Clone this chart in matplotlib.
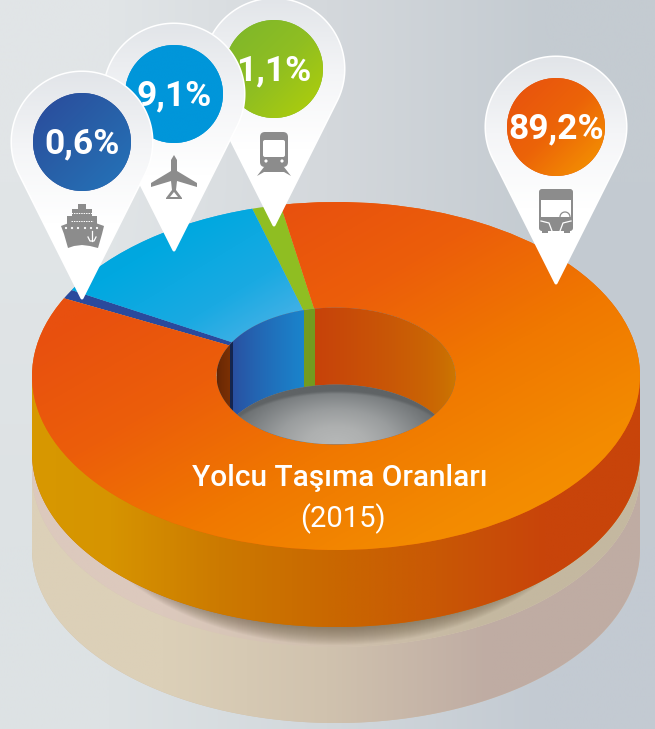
import numpy as np
import matplotlib
matplotlib.use("Agg")
import matplotlib.pyplot as plt
from matplotlib.colors import LinearSegmentedColormap, to_rgb
from matplotlib.patches import Circle, Polygon, Rectangle, FancyBboxPatch

plt.rcParams["font.family"] = ["Roboto", "DejaVu Sans"]

# printed on the pins
modes = ["Denizyolu", "Havayolu", "Demiryolu", "Karayolu"]
label_values = [0.6, 9.1, 1.1, 89.2]
chart_title = "Yolcu Taşıma Oranları"
chart_year = "(2015)"

# slice sizes as drawn in the picture (they are not to scale with the labels)
slice_names = ["Demiryolu", "Havayolu", "Denizyolu", "Karayolu"]
slice_shares = [1.53, 12.33, 0.86, 85.28]

START = 100.5
W, H = 655, 729
CX, CY, RX, RY = 336, 376, 304, 174
INNER = 0.393
DEPTH = 77 / RY


def color_ramp(stops):
    return LinearSegmentedColormap.from_list("r", stops)


def gradient(ax, clip, box, stops, ux=1.0, uy=0.0, z=1, alpha=None):
    fx, fy = np.meshgrid(np.linspace(0, 1, 300), np.linspace(0, 1, 300))
    t = fx * ux + fy * uy
    t = (t - t.min()) / (t.max() - t.min())
    im = ax.imshow(color_ramp(stops)(t), extent=box, aspect="auto", zorder=z,
                   interpolation="bilinear", alpha=alpha)
    if clip is not None:
        im.set_clip_path(clip)
    return im


def ellipse_xy(r=1.0, dy=0.0, a0=0.0, a1=360.0, n=300):
    a = np.radians(np.linspace(a0, a1, n))
    return r * np.cos(a), r * np.sin(a) - dy


def poly(ax, x, y, **kw):
    p = Polygon(np.column_stack([x, y]), closed=True, **kw)
    ax.add_patch(p)
    return p


fig = plt.figure(figsize=(W / 100, H / 100), dpi=100)
ax = fig.add_axes([0, 0, 1, 1])
box = [-CX / RX, (W - CX) / RX, (CY - H) / RY, CY / RY]

# background
bg = np.array([[to_rgb("#e1e5e7"), to_rgb("#d4d8dc"), to_rgb("#c4cbd1")],
               [to_rgb("#dde2e4"), to_rgb("#d2d8dc"), to_rgb("#c3cad2")]])
ax.imshow(bg, extent=box, aspect="auto", interpolation="bilinear", zorder=0)

# reflection under the disc
x0, y0 = ellipse_xy(1, 173 / RY, 180, 360)
refl = poly(ax, np.r_[x0, 1, -1], np.r_[y0, 0, 0], fc="#d0c1ad", ec="none", zorder=1)
gradient(ax, refl, box, ["#dcd0b8", "#dcd0b8", "#d0c2ae", "#bfaca3", "#bfaca3"], z=1.1)
x0, y0 = ellipse_xy(1, 97 / RY, 180, 360)
rim = poly(ax, np.r_[x0, 1, -1], np.r_[y0, 0, 0], fc="#d8c9b5", ec="none", zorder=1.2)
gradient(ax, rim, box, ["#dcc9bd", "#dcc9bd", "#d0c0ae", "#c4b8a0", "#c4b8a0"], z=1.3)
# soft shadow, strongest under the middle of the disc
for k in range(18):
    x0, y0 = ellipse_xy(1, (95 - k) / RY, 180, 360)
    poly(ax, 0.88 * x0, y0, fc="#6e5f48", ec="none", alpha=0.05, zorder=1.4)

# outer side of the disc
x0, y0 = ellipse_xy(1, DEPTH, 180, 360)
side = poly(ax, np.r_[x0, 1, -1], np.r_[y0, 0, 0], fc="#cc7000", ec="none", zorder=2)
gradient(ax, side, box, ["#d89a00", "#d69400", "#cc7a00", "#c96800", "#c95805", "#c8440a", "#c8440a"], z=2.1)

# top face
slices, _ = ax.pie(slice_shares, radius=1, startangle=START, counterclock=True,
                   colors=["#8fbe22", "#1fa9e2", "#2a4a9c", "#ec6408"],
                   wedgeprops=dict(width=1 - INNER, linewidth=0, zorder=3))
unit = [-1, 1, -1, 1]
gradient(ax, slices[1], [-0.87, -0.11, 0.18, 0.98], ["#00a6df", "#00a8e0", "#1aaae2", "#58b4e8"], 1, 1, z=3.1)
gradient(ax, slices[3], unit, ["#e8500f", "#e8500f", "#ec5e0a", "#f07800", "#f38a00", "#f59600"], 1, 1, z=3.1)

# inner wall of the hole, x position of each colour follows the slice edges
edges = START + np.cumsum([0] + slice_shares) / 100 * 360
wall_x = np.linspace(-INNER, INNER, 500)
wall_a = np.degrees(np.arccos(wall_x / INNER))
wall_segments = [(0, edges[0], "#c7420a", "#cc7c00"),
                 (edges[0], edges[1], "#739b1f", "#739b1f"),
                 (edges[1], edges[2], "#2a4fa0", "#1a84cc"),
                 (edges[2], edges[3], "#14254f", "#14254f"),
                 (edges[3], 180, "#5e2204", "#7a3005")]
wall = np.zeros((1, 500, 3))
for a0, a1, left, right in wall_segments:
    m = (wall_a >= a0) & (wall_a <= a1)
    s = (wall_a[m] - a0) / (a1 - a0)
    wall[0, m] = np.outer(s, to_rgb(left)) + np.outer(1 - s, to_rgb(right))
hx, hy = ellipse_xy(INNER)
hole = poly(ax, hx, hy, fc="#808080", ec="none", zorder=4)
im = ax.imshow(wall, extent=[-INNER, INNER, -INNER, INNER], aspect="auto",
               interpolation="nearest", zorder=4.1)
im.set_clip_path(hole)

# floor of the hole
fx = np.linspace(-INNER, INNER, 500)
low = -INNER * np.sqrt(1 - (fx / INNER) ** 2)
upper = -DEPTH + INNER * np.sqrt(1 - (fx / INNER) ** 2)
m = upper > low
floor = poly(ax, np.r_[fx[m], fx[m][::-1]], np.r_[low[m], upper[m][::-1]],
             fc="#8a8c8d", ec="none", zorder=5)
gx, gy = np.meshgrid(np.linspace(-INNER, INNER, 300), np.linspace(-INNER, 0, 200))
dist = np.hypot(gx / INNER, (gy + INNER) / (INNER * 1.0))
tone = color_ramp(["#b6b8b8", "#aeb0b0", "#9a9d9e", "#7c8082", "#5e6264"])(np.clip(dist, 0, 1))
# darker crescent along the back of the floor, thinning out to the sides
shade = -DEPTH + 0.85 * INNER * np.sqrt(np.clip(1 - (gx / INNER) ** 2, 0, 1)) + 0.15 * INNER
band = np.clip((gy - (shade - 10 / RY)) / (3 / RY), 0, 1)[..., None]
dark = np.array(to_rgb("#5f6365") + (1,))
tone = tone * (1 - band) + dark * band
im = ax.imshow(tone, extent=[-INNER, INNER, -INNER, 0], origin="lower", aspect="auto",
               interpolation="bilinear", zorder=5.1)
im.set_clip_path(floor)

ax.set_xlim(box[0], box[1])
ax.set_ylim(box[2], box[3])
ax.set_aspect("auto")
ax.axis("off")

# pins and text in pixel coordinates
pa = fig.add_axes([0, 0, 1, 1], zorder=5)
pa.patch.set_alpha(0)

GRAY = "#8c8c8c"


def draw_pin(cx, cy, tip_y, stops, text, z):
    r = 70
    # arc over the head between the two tangent points of the straight sides
    tan_a = np.arcsin(r / (tip_y - cy))
    a = np.linspace(-tan_a, np.pi + tan_a, 200)
    xs = np.r_[cx + r * np.cos(a), cx]
    ys = np.r_[cy - r * np.sin(a), tip_y]
    pin = Polygon(np.column_stack([xs, ys]), closed=True, fc="white", ec="white", lw=2.2,
                  joinstyle="round", zorder=z)
    pa.add_patch(pin)
    gradient(pa, pin, [cx - r, cx + r, tip_y, cy - r], ["#e2e5e9", "#f4f5f7", "#ffffff", "#ffffff"], 0, 1, z=z + 0.01)
    c = Circle((cx, cy), 49, fc=stops[0], ec="none", zorder=z + 0.02)
    pa.add_patch(c)
    gradient(pa, c, [cx - 49, cx + 49, cy + 49, cy - 49], stops, 1, 1, z=z + 0.03)
    pa.text(cx, cy + 2, text, color="white", fontsize=25.5, fontweight="bold",
            ha="center", va="center", zorder=z + 0.04)


def draw_ship(x, z):
    for w, top, h in [(4, 204, 6), (10, 209, 7), (15, 216, 9)]:
        pa.add_patch(Rectangle((x - w, top), 2 * w, h, fc=GRAY, ec="none", zorder=z))
    hull_x = [x - 21, x - 8, x + 8, x + 22, x + 20, x + 16, x + 8, x, x - 8, x - 14, x - 18]
    hull_y = [226, 221, 221, 226, 234, 248, 246, 245, 246, 248, 234]
    pa.add_patch(Polygon(np.column_stack([hull_x, hull_y]), fc=GRAY, ec="none", zorder=z))
    for dx in (-16, -10, -4, 3, 9, 15):
        pa.add_patch(Circle((x + dx, 228), 1.1, fc="white", ec="none", zorder=z + 0.01))
    for dy in (210, 218):
        pa.plot([x - 11, x + 11], [dy + 3, dy + 3], color="white", lw=0.7, ls=(0, (1.5, 1)), zorder=z + 0.01)
    pa.plot([x + 10, x + 10], [231, 241], color="white", lw=0.9, zorder=z + 0.01)
    pa.plot([x + 6, x + 8, x + 12, x + 14], [237, 241, 241, 237], color="white", lw=0.9, zorder=z + 0.01)


def draw_plane(x, z):
    pts = [(x, 155), (x + 3, 160), (x + 3, 171), (x + 23, 183), (x + 23, 187), (x + 3, 181),
           (x + 2, 190), (x + 8, 198), (x + 8, 199), (x - 8, 199), (x - 8, 198), (x - 2, 190),
           (x - 3, 181), (x - 23, 187), (x - 23, 183), (x - 3, 171), (x - 3, 160)]
    pa.add_patch(Polygon(pts, fc=GRAY, ec="none", zorder=z))
    pa.add_patch(Polygon([(x, 192), (x + 4, 197), (x - 4, 197)], fc="white", ec="none", zorder=z + 0.01))


def draw_train(x, z):
    pa.add_patch(FancyBboxPatch((x - 14, 132), 28, 35, boxstyle="round,pad=0,rounding_size=5",
                                fc=GRAY, ec="none", zorder=z))
    pa.add_patch(FancyBboxPatch((x - 11, 140), 22, 17, boxstyle="round,pad=0,rounding_size=2",
                                fc="white", ec="none", zorder=z + 0.01))
    pa.add_patch(Polygon([(x - 10, 167), (x + 10, 167), (x + 17, 176), (x + 10, 172), (x - 10, 172), (x - 17, 176)],
                         fc=GRAY, ec="none", zorder=z))
    for dx in (-8, 8):
        pa.add_patch(Circle((x + dx, 161), 1.6, fc="white", ec="none", zorder=z + 0.01))


def draw_bus(x, z):
    pa.add_patch(FancyBboxPatch((x - 17, 189), 34, 42, boxstyle="round,pad=0,rounding_size=3",
                                fc=GRAY, ec="none", zorder=z))
    pa.add_patch(Rectangle((x - 15, 200), 30, 17, fc="white", ec="none", zorder=z + 0.01))
    for dx in (-11, 11):
        pa.add_patch(Rectangle((x + dx - 3, 229), 6, 4, fc=GRAY, ec="none", zorder=z))
    pa.plot([x - 15, x - 7, x - 4], [221, 223, 231], color="white", lw=0.9, zorder=z + 0.02)
    pa.plot([x + 15, x + 7, x + 4], [221, 223, 231], color="white", lw=0.9, zorder=z + 0.02)
    a = np.linspace(0, np.pi, 30)
    pa.plot(x + 9 + 5 * np.cos(a), 217 - 5 * np.sin(a), color=GRAY, lw=0.9, zorder=z + 0.02)


def pct(v):
    return f"{v:.1f}%".replace(".", ",")


# index into label_values, head x, head y, tip y, colours, icon, layer
pins = [(3, 556, 127, 283, ["#e8500f", "#ec6408", "#f59a00"], draw_bus, 10),
        (2, 274, 69, 225, ["#7cb62c", "#8fbe22", "#b2d008"], draw_train, 11),
        (1, 174, 94, 250, ["#0096da", "#0096da"], draw_plane, 12),
        (0, 82, 142, 298, ["#2b4a9b", "#2860a8", "#2474ba"], draw_ship, 13)]
for i, cx, cy, tip, stops, icon, z in pins:
    draw_pin(cx, cy, tip, stops, pct(label_values[i]), z)
    icon(cx, z + 0.05)

pa.text(340, 478, chart_title, color="white", fontsize=21.5, fontweight="medium",
        ha="center", va="center", zorder=20)
pa.text(343, 519, chart_year, color="white", fontsize=21, fontweight="regular",
        ha="center", va="center", zorder=20)

pa.set_xlim(0, W)
pa.set_ylim(H, 0)
pa.set_aspect("auto")
pa.axis("off")

fig.savefig("out.png", dpi=100)
